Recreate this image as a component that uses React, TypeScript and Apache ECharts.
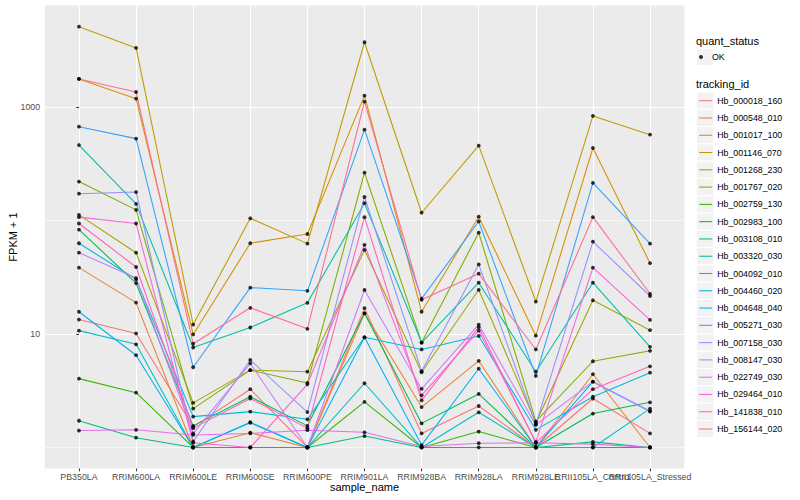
import React, { useEffect, useRef } from "react";
import * as echarts from "echarts";

const FONT = '"Liberation Sans", Arial, Helvetica, sans-serif';

const SAMPLES = [
  "PB350LA", "RRIM600LA", "RRIM600LE", "RRIM600SE", "RRIM600PE", "RRIM901LA",
  "RRIM928BA", "RRIM928LA", "RRIM928LE", "RRII105LA_Control", "RRII105LA_Stressed",
];

const TRACKING_IDS = [
  "Hb_000018_160", "Hb_000548_010", "Hb_001017_100", "Hb_001146_070", "Hb_001268_230",
  "Hb_001767_020", "Hb_002759_130", "Hb_002983_100", "Hb_003108_010", "Hb_003320_030",
  "Hb_004092_010", "Hb_004460_020", "Hb_004648_040", "Hb_005271_030", "Hb_007158_030",
  "Hb_008147_030", "Hb_022749_030", "Hb_029464_010", "Hb_141838_010", "Hb_156144_020",
];

const COLORS = [
  "#F8766D", "#EA8331", "#D89000", "#C09B00", "#A3A500", "#7CAE00", "#39B600", "#00BB4E",
  "#00BF7D", "#00C1A3", "#00BFC4", "#00BAE0", "#00B0F6", "#35A2FF", "#9590FF", "#C77CFF",
  "#E76BF3", "#FA62DB", "#FF62BC", "#FF6C91",
];

// FPKM + 1 values, one array per tracking_id, in SAMPLES order
const Hb_000018_160 = [13.4, 10.1, 1.52, 3.26, 1.0, 16.9, 1.33, 2.32, 1.0, 2.7, 1.33];
const Hb_000548_010 = [38.4, 18.9, 1.0, 1.35, 1.0, 15.2, 2.27, 5.8, 1.0, 4.42, 1.0];
const Hb_001017_100 = [1765, 1183, 9.9, 63, 76, 1258, 15.7, 108, 9.66, 435, 42];
const Hb_001146_070 = [5100, 3310, 12.1, 104.5, 62.5, 3715, 117, 456, 19.3, 833, 570];
const Hb_001268_230 = [112, 52, 2.47, 4.8, 4.65, 55, 4.6, 24.5, 1.65, 19.8, 10.8];
const Hb_001767_020 = [220, 124, 2.2, 4.8, 3.7, 264, 8.4, 78, 1.7, 5.75, 7.1];
const Hb_002759_130 = [4.04, 3.04, 1.0, 1.0, 1.0, 2.52, 1.0, 1.38, 1.0, 1.0, 1.0];
const Hb_002983_100 = [83, 28, 1.55, 2.8, 1.55, 15.2, 1.63, 2.96, 1.0, 1.99, 2.5];
const Hb_003108_010 = [1.72, 1.22, 1.0, 1.0, 1.0, 1.26, 1.0, 1.0, 1.0, 1.12, 1.0];
const Hb_003320_030 = [462, 140, 7.6, 11.4, 18.8, 142, 8.4, 28.3, 4.65, 28.3, 7.7];
const Hb_004092_010 = [10.7, 8.1, 1.0, 1.65, 1.0, 3.68, 1.0, 2.04, 1.0, 1.0, 2.2];
const Hb_004460_020 = [63, 30.3, 1.87, 2.07, 1.77, 9.35, 7.3, 9.6, 1.43, 2.8, 4.56];
const Hb_004648_040 = [15.7, 6.5, 1.0, 1.67, 1.0, 9.35, 1.05, 4.94, 1.0, 3.8, 2.07];
const Hb_005271_030 = [670, 526, 5.09, 25.6, 24, 631, 20.5, 98, 4.27, 214, 62.5];
const Hb_007158_030 = [172, 178, 1.13, 5.9, 2.05, 161, 4.7, 41, 1.6, 65, 21.6];
const Hb_008147_030 = [52, 31.1, 1.33, 5.5, 1.0, 24.4, 3.28, 12.1, 1.58, 3.8, 2.1];
const Hb_022749_030 = [1.41, 1.43, 1.29, 1.33, 1.42, 1.36, 1.02, 1.09, 1.1, 1.07, 1.0];
const Hb_029464_010 = [107, 94, 1.1, 1.0, 3.6, 61, 2.88, 10.7, 1.12, 38.4, 13.3];
const Hb_141838_010 = [94, 38.9, 1.48, 2.7, 1.48, 107, 2.6, 11.5, 1.1, 3.26, 5.19];
const Hb_156144_020 = [1765, 1355, 8.2, 17, 11.1, 1114, 20, 34, 7.3, 107, 22.6];

const VALUES = [
  Hb_000018_160, Hb_000548_010, Hb_001017_100, Hb_001146_070, Hb_001268_230,
  Hb_001767_020, Hb_002759_130, Hb_002983_100, Hb_003108_010, Hb_003320_030,
  Hb_004092_010, Hb_004460_020, Hb_004648_040, Hb_005271_030, Hb_007158_030,
  Hb_008147_030, Hb_022749_030, Hb_029464_010, Hb_141838_010, Hb_156144_020,
];

const QUANT_STATUS = ["OK"];
const Y_MAJOR = [10, 1000];
const Y_MINOR = [1, 100];
const Y_MIN = 0.6527;
const Y_MAX = 7816;

// layout constants (pixels)
const GRID = { left: 44.7, top: 5.6, width: 639.6, height: 462.9 };
const KEY = 17.28;
const KEY_X = 696.5;
const OK_KEY_Y = 48.36;
const TRACK_KEY_Y = 92.06;

export default function App() {
  const ref = useRef<HTMLDivElement>(null);

  useEffect(() => {
    if (!ref.current) return;
    const chart = echarts.init(ref.current, null, { renderer: "svg" });
    const xTicks = SAMPLES.map((_, i) => i);
    // labels are split over two axes (even / odd positions) so that the
    // library keeps every one of them even where neighbours overlap
    const xEven = xTicks.filter((i) => i % 2 === 0);
    const xOdd = xTicks.filter((i) => i % 2 === 1);

    const labelStyle = {
      show: true,
      formatter: (v: number) => SAMPLES[Math.round(v)] ?? "",
      color: "#4D4D4D",
      fontSize: 8.8,
      fontFamily: FONT,
      margin: 4.2,
      hideOverlap: false,
      showMinLabel: true,
      showMaxLabel: true,
    };

    const lineSeries = TRACKING_IDS.map((id, k) => ({
      type: "line",
      name: id,
      data: VALUES[k].map((v, i) => [i, v]),
      xAxisIndex: 0,
      yAxisIndex: 0,
      symbol: "none",
      silent: true,
      z: 2,
      lineStyle: { color: COLORS[k], width: 1.07 },
      itemStyle: { color: COLORS[k] },
      emphasis: { disabled: true },
    }));

    const points: number[][] = [];
    VALUES.forEach((vals) => vals.forEach((v, i) => points.push([i, v])));

    const keyRects: any[] = [
      {
        type: "rect",
        z: 0,
        shape: { x: KEY_X, y: OK_KEY_Y, width: KEY, height: KEY },
        style: { fill: "#F2F2F2", stroke: "#FFFFFF", lineWidth: 1 },
      },
    ];
    TRACKING_IDS.forEach((_, i) => {
      keyRects.push({
        type: "rect",
        z: 0,
        shape: { x: KEY_X, y: TRACK_KEY_Y + i * KEY, width: KEY, height: KEY },
        style: { fill: "#F2F2F2", stroke: "#FFFFFF", lineWidth: 1 },
      });
    });

    const option: any = {
      animation: false,
      textStyle: { fontFamily: FONT },
      grid: {
        ...GRID,
        show: true,
        backgroundColor: "#EBEBEB",
        borderWidth: 0,
        containLabel: false,
      },
      xAxis: [
        {
          type: "value",
          min: -0.6,
          max: 10.6,
          position: "bottom",
          axisLine: { show: false },
          axisTick: {
            show: true,
            customValues: xTicks,
            length: 2.74,
            lineStyle: { color: "#333333", width: 1.07 },
          },
          axisLabel: { ...labelStyle, customValues: xEven },
          splitLine: { show: true, lineStyle: { color: "#FFFFFF", width: 1.07 } },
        },
        {
          type: "value",
          min: -0.6,
          max: 10.6,
          position: "bottom",
          offset: 0,
          axisLine: { show: false },
          axisTick: { show: false, customValues: xOdd },
          axisLabel: { ...labelStyle, customValues: xOdd },
          splitLine: { show: false },
        },
      ],
      yAxis: [
        {
          type: "log",
          logBase: 10,
          min: Y_MIN,
          max: Y_MAX,
          axisLine: { show: false },
          axisTick: {
            show: true,
            customValues: Y_MAJOR,
            length: 2.74,
            lineStyle: { color: "#333333", width: 1.07 },
          },
          axisLabel: {
            show: true,
            customValues: Y_MAJOR,
            formatter: (v: number) => String(Math.round(v)),
            color: "#4D4D4D",
            fontSize: 8.8,
            fontFamily: FONT,
            margin: 4.6,
            showMinLabel: true,
            showMaxLabel: true,
          },
          splitLine: { show: true, lineStyle: { color: "#FFFFFF", width: 1.07 } },
        },
        {
          type: "log",
          logBase: 10,
          min: Y_MIN,
          max: Y_MAX,
          position: "right",
          axisLine: { show: false },
          axisTick: { show: false, customValues: Y_MINOR },
          axisLabel: { show: false },
          splitLine: { show: true, lineStyle: { color: "#FFFFFF", width: 0.55 } },
        },
      ],
      legend: [
        {
          data: QUANT_STATUS.map((n) => ({ name: n, icon: "circle" })),
          orient: "vertical",
          left: 699,
          top: OK_KEY_Y,
          padding: 0,
          itemWidth: 12,
          itemHeight: 4,
          itemGap: 0,
          selectedMode: false,
          itemStyle: { color: "#000000", borderWidth: 0 },
          textStyle: { fontSize: 8.8, color: "#000000", fontFamily: FONT, lineHeight: KEY },
        },
        {
          data: TRACKING_IDS,
          icon: "rect",
          orient: "vertical",
          left: 699.2,
          top: TRACK_KEY_Y,
          padding: 0,
          itemWidth: 13,
          itemHeight: 1.07,
          itemGap: 0,
          selectedMode: false,
          itemStyle: { borderWidth: 0 },
          textStyle: { fontSize: 8.8, color: "#000000", fontFamily: FONT, lineHeight: KEY },
        },
      ],
      series: [
        ...lineSeries,
        {
          type: "scatter",
          name: "OK",
          data: points,
          xAxisIndex: 0,
          yAxisIndex: 0,
          symbol: "circle",
          symbolSize: 3.8,
          silent: true,
          z: 3,
          itemStyle: { color: "#000000" },
          emphasis: { disabled: true },
        },
      ],
      graphic: [
        ...keyRects,
        {
          type: "text",
          x: 13,
          y: GRID.top + GRID.height / 2,
          rotation: Math.PI / 2,
          style: {
            text: "FPKM + 1",
            fontSize: 11,
            fontFamily: FONT,
            fill: "#000000",
            align: "center",
            verticalAlign: "middle",
          },
        },
        {
          type: "text",
          x: GRID.left + GRID.width / 2,
          y: 487,
          style: {
            text: "sample_name",
            fontSize: 11,
            fontFamily: FONT,
            fill: "#000000",
            align: "center",
            verticalAlign: "middle",
          },
        },
        {
          type: "text",
          x: 696,
          y: 40.7,
          style: {
            text: "quant_status",
            fontSize: 11,
            fontFamily: FONT,
            fill: "#000000",
            align: "left",
            verticalAlign: "middle",
          },
        },
        {
          type: "text",
          x: 696,
          y: 84.3,
          style: {
            text: "tracking_id",
            fontSize: 11,
            fontFamily: FONT,
            fill: "#000000",
            align: "left",
            verticalAlign: "middle",
          },
        },
      ],
    };

    chart.setOption(option);
    return () => chart.dispose();
  }, []);

  return (
    <div
      ref={ref}
      style={{ position: "fixed", left: 0, top: 0, width: 800, height: 500, background: "#FFFFFF" }}
    />
  );
}
